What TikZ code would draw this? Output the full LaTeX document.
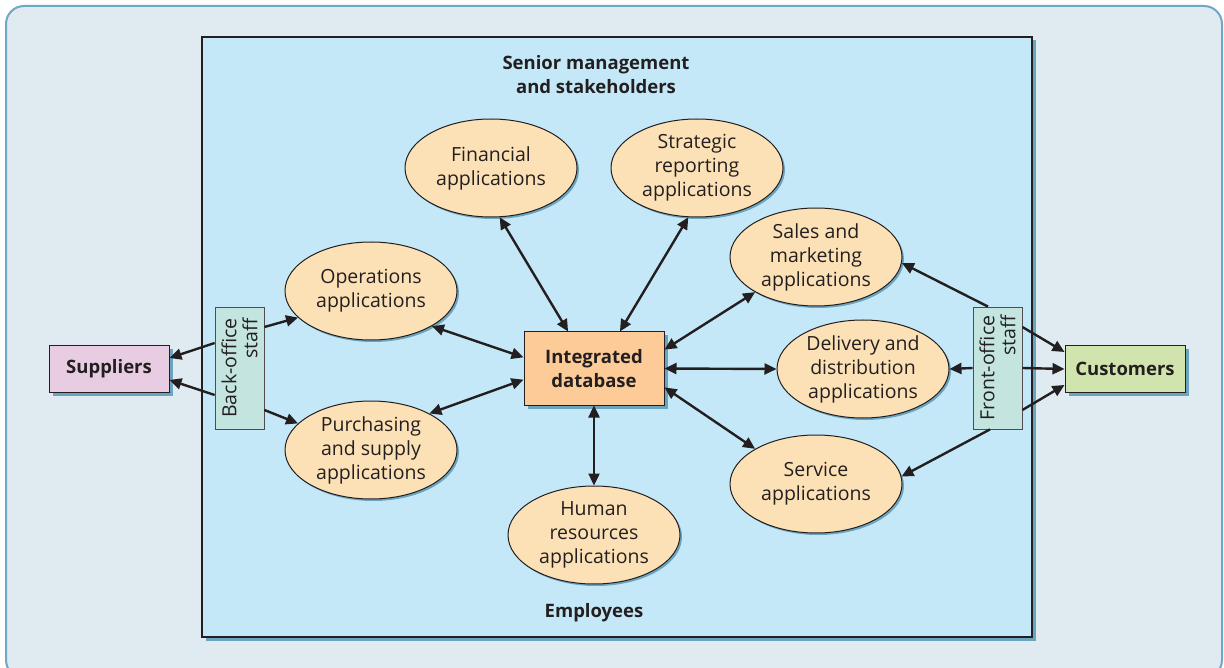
\documentclass[tikz,border=0pt]{standalone}
\usepackage{fontspec}
\setmainfont{Open Sans}
\usetikzlibrary{shapes.geometric,arrows.meta,shadows}
\definecolor{ink}{HTML}{231F20}
\definecolor{outerfill}{HTML}{DFEAF1}
\definecolor{outerline}{HTML}{6FA8C4}
\definecolor{innerfill}{HTML}{C5E8F8}
\definecolor{shadowc}{HTML}{6BA4BF}
\definecolor{ellfill}{HTML}{FDE1B6}
\definecolor{dbfill}{HTML}{FCCB97}
\definecolor{supfill}{HTML}{E8CCE2}
\definecolor{cusfill}{HTML}{D2E4AE}
\definecolor{stafffill}{HTML}{C4E4E0}
\tikzset{
  x=1pt, y=-1pt,
  every node/.style={text=ink, font=\fontsize{19.5pt}{24pt}\selectfont},
  shad/.style={drop shadow={shadow xshift=3.5pt, shadow yshift=-3.5pt, fill=shadowc, opacity=1}},
  eshad/.style={drop shadow={shadow xshift=2pt, shadow yshift=-2pt, fill=shadowc, opacity=1}},
  app/.style={ellipse, draw=ink, line width=1pt, fill=ellfill, eshad, minimum width=172pt, minimum height=98pt, inner sep=0pt, align=center},
  boxnode/.style={rectangle, draw=ink, line width=1pt, shad, inner sep=0pt, align=center, font=\fontsize{18.5pt}{24pt}\selectfont\bfseries},
  staffbox/.style={rectangle, draw=ink!80, line width=0.8pt, fill=stafffill, minimum width=122pt, minimum height=49pt, inner sep=0pt, rotate=90, align=right, font=\fontsize{19.5pt}{21pt}\selectfont},
  arr/.style={-{Triangle[length=12pt,width=11pt]}, line width=2.4pt, draw=ink},
  biarr/.style={{Triangle[length=12pt,width=11pt]}-{Triangle[length=12pt,width=11pt]}, line width=2.4pt, draw=ink},
  titletext/.style={align=center, font=\fontsize{18.5pt}{24pt}\selectfont\bfseries}
}
\begin{document}
\begin{tikzpicture}
\useasboundingbox (0,0) rectangle (1224,668);
% outer frame
\draw[draw=outerline, line width=2pt, fill=outerfill, rounded corners=18pt] (6,6) rectangle (1222,678);
% inner box
\node[rectangle, draw=ink, line width=1.2pt, fill=innerfill, shad, minimum width=830pt, minimum height=600pt, inner sep=0pt] (frame) at (617,337) {};
\node[titletext] (top) at (596,75) {Senior management\\and stakeholders};
\node[titletext] (bottom) at (594,613) {Employees};

% ellipses
\node[app] (fin) at (491,168) {Financial\\applications};
\node[app] (strat) at (697,168) {Strategic\\reporting\\applications};
\node[app] (sales) at (816,257) {Sales and\\marketing\\applications};
\node[app] (deliv) at (863,369) {Delivery and\\distribution\\applications};
\node[app] (serv) at (816,484) {Service\\applications};
\node[app] (ops) at (371,291) {Operations\\applications};
\node[app] (purch) at (371,450) {Purchasing\\and supply\\applications};
\node[app] (hr) at (594,535) {Human\\resources\\applications};

% boxes
\node[boxnode, fill=dbfill, minimum width=140pt, minimum height=73pt] (db) at (594,368.5) {Integrated\\database};
\node[boxnode, fill=supfill, minimum width=120pt, minimum height=46pt] (sup) at (109,369) {Suppliers};
\node[boxnode, fill=cusfill, minimum width=120pt, minimum height=46pt] (cus) at (1125,369) {Customers};

% connectors to the database
\draw[biarr] (ops.-30) -- (db.171);
\draw[biarr] (purch.32) -- (db.189);
\draw[biarr] (fin.-80) -- (db.125);
\draw[biarr] (strat.-100) -- (db.55);
\draw[biarr] (sales.210) -- (db.15);
\draw[biarr] (deliv.west) -- (db.east);
\draw[biarr] (serv.150) -- (db.-15);
\draw[biarr] (hr.north) -- (db.south);

% staff boxes (rotated: north = page left, south = page right, east = page top, west = page bottom)
\node[staffbox] (bo) at (239.5,368) {Back-office\\staff};
\node[staffbox] (fo) at (997.5,368) {Front-office\\staff};

\draw[arr] ([yshift=25pt]bo.north) -- ([yshift=11pt]sup.east);
\draw[arr] ([yshift=-27pt]bo.north) -- ([yshift=-11pt]sup.east);
\draw[arr] ([yshift=41pt]bo.south) -- (ops.200);
\draw[arr] ([yshift=-42pt]bo.south) -- (purch.160);

\draw[arr] ([xshift=-9.5pt]fo.east) -- (sales.-4);
\draw[arr] ([xshift=-7.5pt]fo.west) -- (serv.5);
\draw[arr] (fo.north) -- (deliv.east);
\draw[arr] ([yshift=41pt]fo.south) -- ([yshift=17pt]cus.west);
\draw[arr] (fo.south) -- (cus.west);
\draw[arr] ([yshift=-42pt]fo.south) -- ([yshift=-16pt]cus.west);
\end{tikzpicture}
\end{document}
